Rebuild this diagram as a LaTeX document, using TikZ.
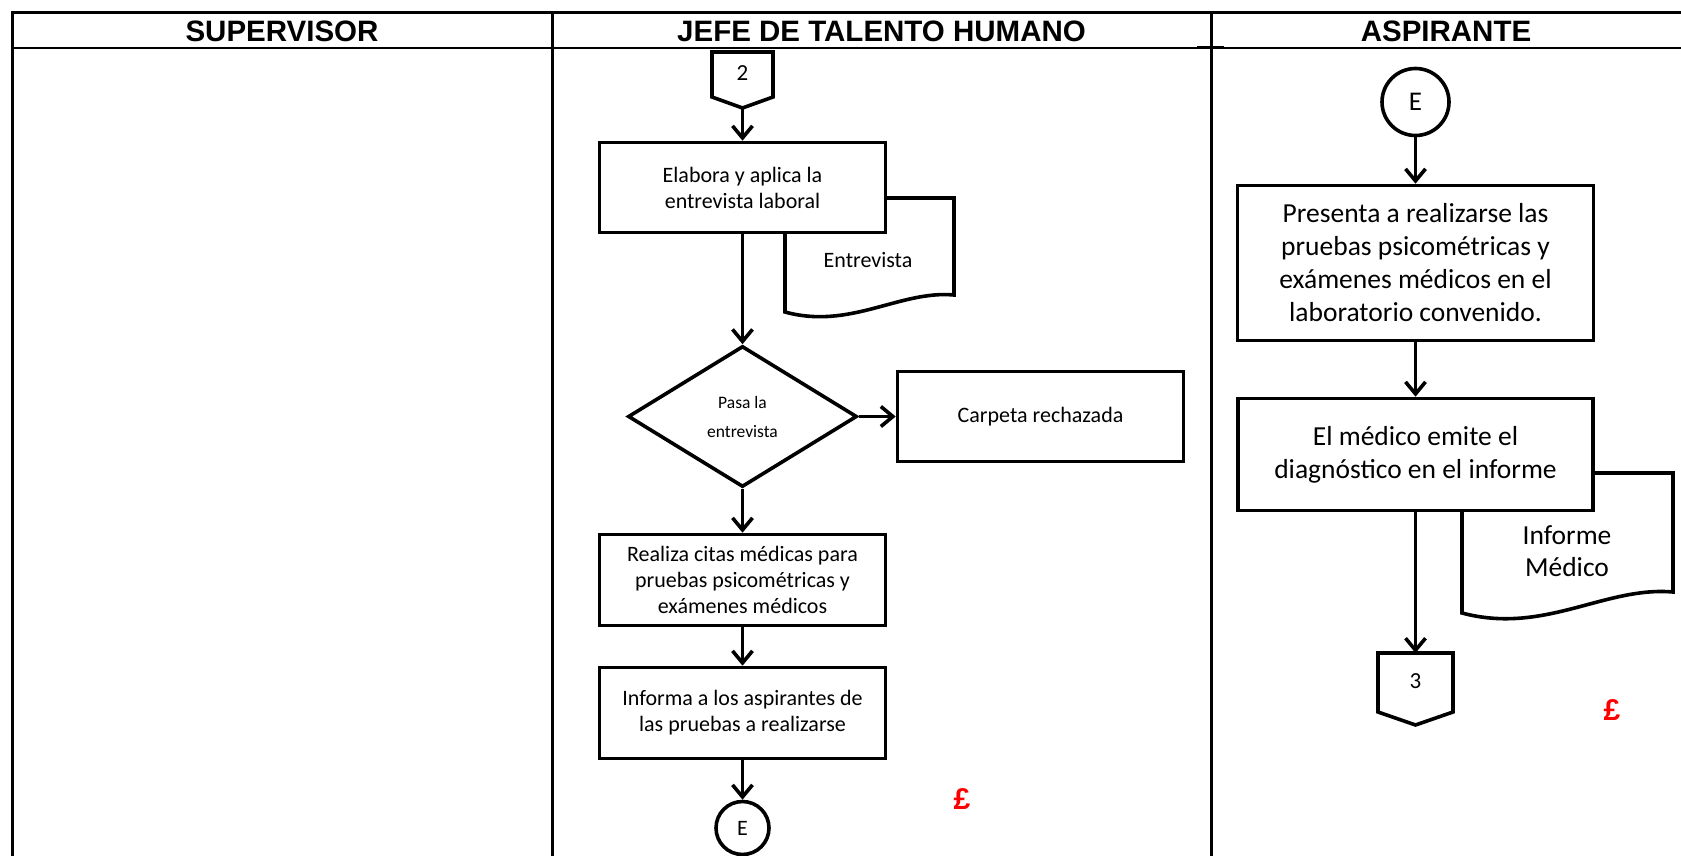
\documentclass[tikz,border=0pt]{standalone}
\usepackage{fontspec}
\setmainfont{Carlito}
\newfontfamily\headfont{Liberation Sans}
\usetikzlibrary{arrows.meta,shapes.geometric}

\tikzset{
  caja/.style={draw, line width=3.6pt, fill=white, rectangle, inner sep=0pt, align=center,
    font=\fontsize{22}{26}\selectfont},
  cajagrande/.style={caja, font=\fontsize{27.5}{33}\selectfont},
  rombo/.style={draw, line width=3.6pt, fill=white, diamond, inner sep=0pt, align=center,
    minimum width=229pt, minimum height=141pt, font=\fontsize{17.5}{29}\selectfont},
  circulo/.style={draw, line width=3.6pt, fill=white, circle, inner sep=0pt},
  linea/.style={draw, line width=3.6pt, fill=white},
  texto/.style={align=center, inner sep=0pt, font=\fontsize{22}{26}\selectfont},
  flecha/.style={line width=3.6pt, -{Straight Barb[length=12pt,width=20pt]}},
  titulo/.style={font=\headfont\bfseries\fontsize{29.5}{34}\selectfont},
  marca/.style={text=red, font=\headfont\bfseries\fontsize{30}{34}\selectfont},
  tabla/.style={line width=3pt},
}

\begin{document}
\begin{tikzpicture}[x=1pt, y=-1pt]

    \useasboundingbox (0,0) rectangle (1681,856);

    % Table frame and lane headers
    \draw[tabla] (11,13) -- (1681,13);
    \draw[line width=1.3pt] (11,48) -- (1681,48);
    \draw[tabla] (1197,48) -- (1224,48);
    \foreach \x in {12, 552, 1211} {
        \draw[tabla] (\x,12) -- (\x,856);
    }
    \node[titulo] (supervisor) at (282,31) {SUPERVISOR};
    \node[titulo] (jefe) at (881.5,31) {JEFE DE TALENTO HUMANO};
    \node[titulo] (aspirante) at (1446,31) {ASPIRANTE};

    % Jefe de talento humano lane
    \draw[linea] (712,52) -- (773,52) -- (773,97) -- (742.5,108) -- (712,97) -- cycle;
    \node[texto, font=\fontsize{23}{26}\selectfont] (con2) at (742.5,73) {2};
    \coordinate (con2s) at (742.5,108);

    \draw[linea] (785,198) -- (954,198) -- (954,295)
        .. controls (900,290) and (850,330) .. (785,312) -- cycle;
    \node[texto] (entrevista) at (868,260) {Entrevista};

    \node[caja, minimum width=286pt, minimum height=90pt] (elabora) at (742.5,187.5)
        {Elabora y aplica la\\entrevista laboral};
    \node[rombo] (pasa) at (742.5,416.5) {Pasa la\\entrevista};
    \node[caja, minimum width=286pt, minimum height=90pt] (rechazada) at (1040.5,416.5)
        {Carpeta rechazada};
    \node[caja, minimum width=286pt, minimum height=91pt] (citas) at (742.5,580)
        {Realiza citas médicas para\\pruebas psicométricas y\\exámenes médicos};
    \node[caja, minimum width=286pt, minimum height=91pt] (informa) at (742.5,713)
        {Informa a los aspirantes de\\las pruebas a realizarse};
    \node[circulo, minimum size=53pt, font=\fontsize{22}{24}\selectfont] (enlace1) at (742.5,828) {E};

    \draw[flecha] (con2s) -- (elabora);
    \draw[flecha] (elabora) -- (pasa);
    \draw[flecha] (pasa) -- (rechazada);
    \draw[flecha] (pasa) -- (citas);
    \draw[flecha] (citas) -- (informa);
    \draw[flecha] (informa) -- (enlace1);

    \node[marca] (libra1) at (962,799) {£};

    % Aspirante lane
    \draw[linea] (1462,473) -- (1673,473) -- (1673,592)
        .. controls (1605,586) and (1544,635) .. (1462,613) -- cycle;
    \node[texto, font=\fontsize{27.5}{32}\selectfont] (informe) at (1567,551) {Informe\\Médico};

    \node[circulo, minimum size=67pt, font=\fontsize{27}{30}\selectfont] (enlace2) at (1415.5,102) {E};
    \node[cajagrande, minimum width=356pt, minimum height=155pt] (presenta) at (1415.5,263)
        {Presenta a realizarse las\\pruebas psicométricas y\\exámenes médicos en el\\laboratorio convenido.};
    \node[cajagrande, minimum width=355pt, minimum height=112pt] (diagnostico) at (1415.5,454.5)
        {El médico emite el\\diagnóstico en el informe};

    \draw[linea] (1378,653) -- (1453,653) -- (1453,712) -- (1415.5,725) -- (1378,712) -- cycle;
    \node[texto, font=\fontsize{23}{26}\selectfont] (con3) at (1415.5,681) {3};
    \coordinate (con3n) at (1415.5,653);

    \draw[flecha] (enlace2) -- (presenta);
    \draw[flecha] (presenta) -- (diagnostico);
    \draw[flecha] (diagnostico) -- (con3n);

    \node[marca] (libra2) at (1612,710) {£};

\end{tikzpicture}
\end{document}
